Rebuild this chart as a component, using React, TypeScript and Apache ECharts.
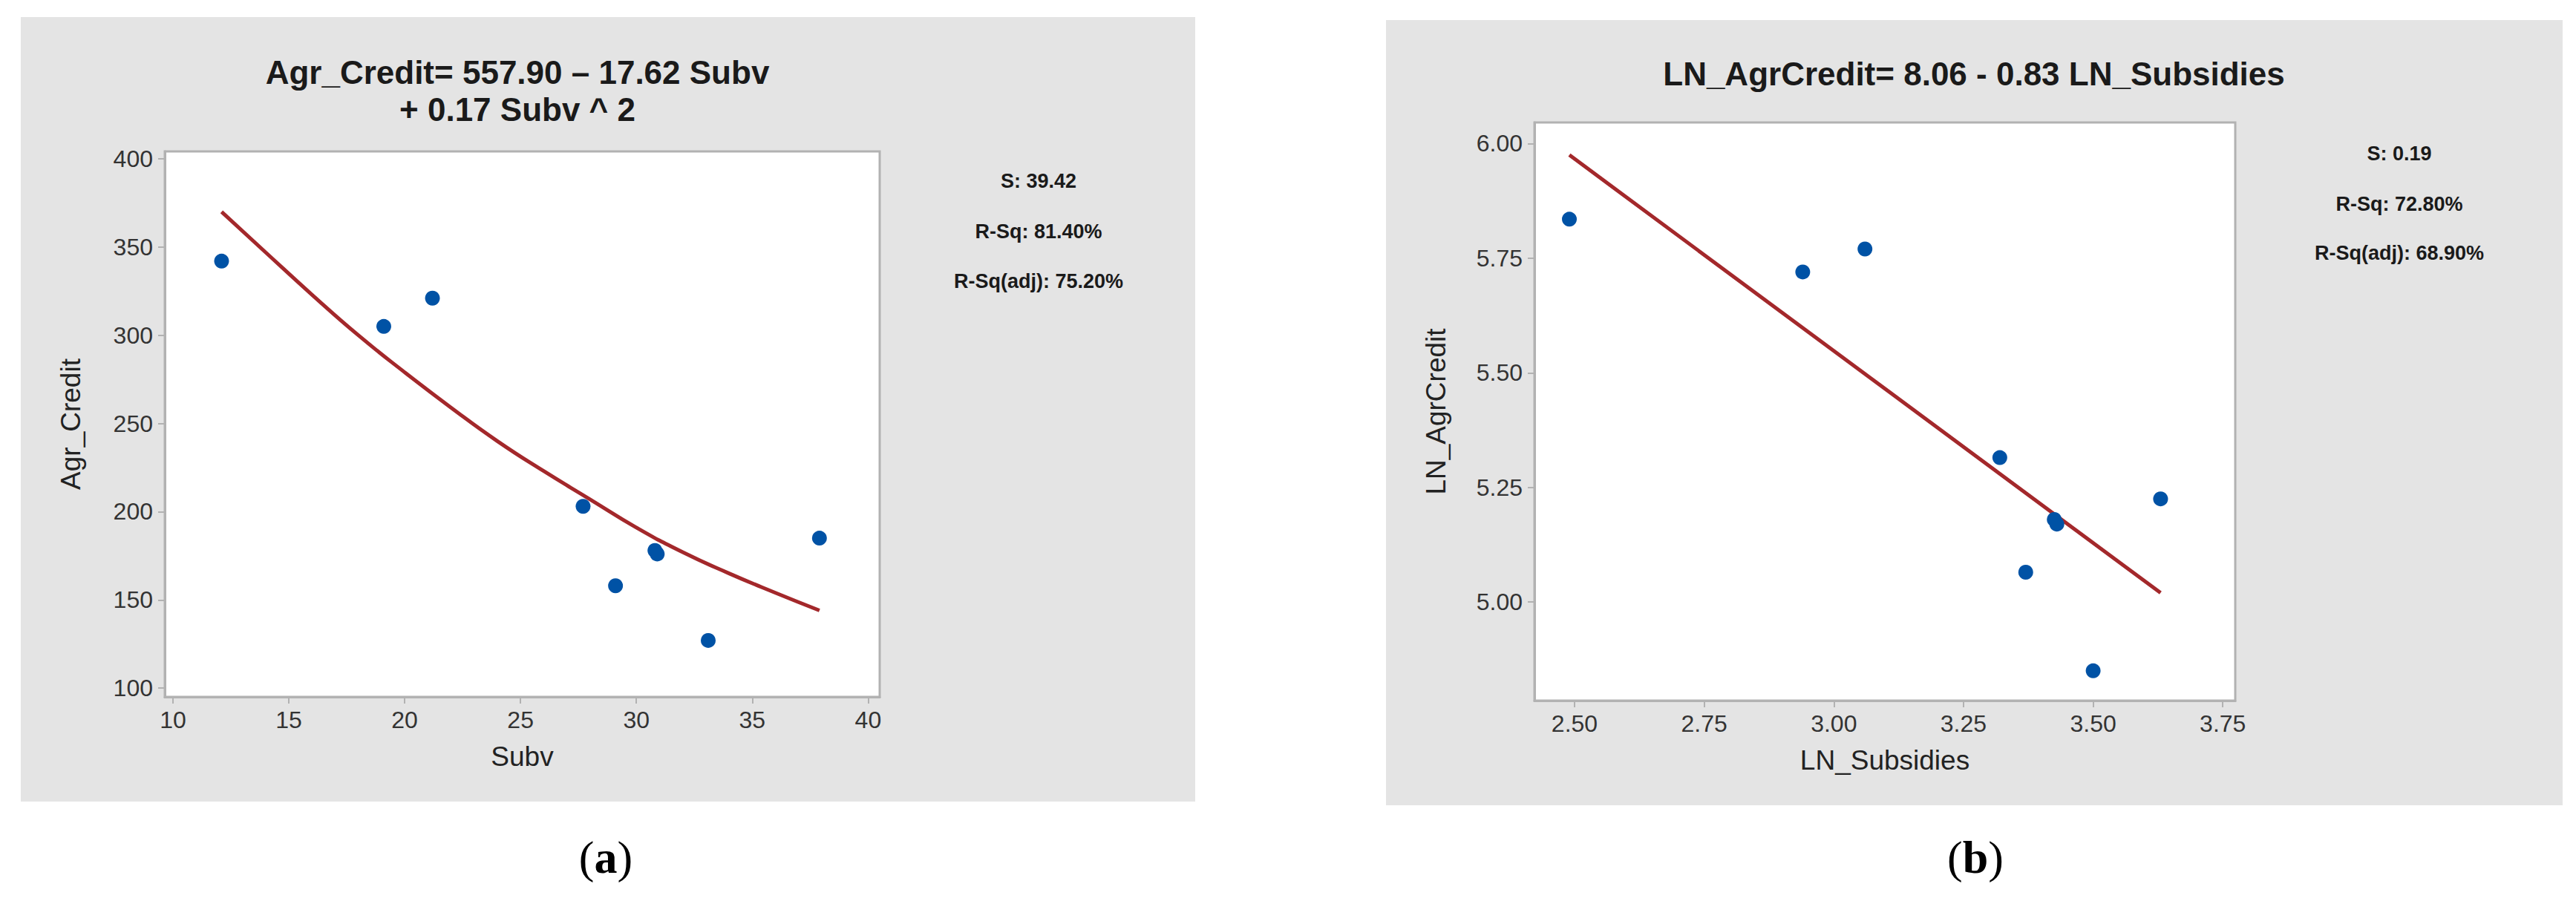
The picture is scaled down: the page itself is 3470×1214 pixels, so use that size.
import React, { useEffect, useRef } from "react";
import * as echarts from "echarts";

// Panel (a): Agr_Credit vs Subv
const subvA = [12.1, 19.1, 21.2, 27.7, 29.1, 30.8, 30.9, 33.1, 37.9];
const agrCreditA = [342, 305, 321, 203, 158, 178, 176, 127, 185];
const fitXA = [12.1, 14, 16, 18, 20, 22, 24, 26, 28, 30, 32, 34, 36, 37.9];
const fitYA = [370, 347, 323, 300, 279, 259, 240, 223, 207, 191, 177, 165, 154, 144];
const xTicksA = [10, 15, 20, 25, 30, 35, 40];
const yTicksA = [100, 150, 200, 250, 300, 350, 400];
const statsA = ["S: 39.42", "R-Sq: 81.40%", "R-Sq(adj): 75.20%"];

// Panel (b): LN_AgrCredit vs LN_Subsidies
const lnSubsidies = [2.49, 2.94, 3.06, 3.32, 3.37, 3.425, 3.43, 3.5, 3.63];
const lnAgrCredit = [5.835, 5.72, 5.77, 5.315, 5.065, 5.18, 5.17, 4.85, 5.225];
const fitXB = [2.49, 3.63];
const fitYB = [5.975, 5.02];
const xTicksB = [2.5, 2.75, 3.0, 3.25, 3.5, 3.75];
const yTicksB = [5.0, 5.25, 5.5, 5.75, 6.0];
const statsB = ["S: 0.19", "R-Sq: 72.80%", "R-Sq(adj): 68.90%"];

const FONT = '"Liberation Sans", Arial, sans-serif';
const AXIS_GRAY = "#b2b2b2";
const PANEL_GRAY = "#e4e4e4";
const DOT = "#0052a5";
const LINE = "#a3282b";

function txt(text: string, x: number, y: number, font: string, extra: any = {}) {
  return {
    type: "text",
    x,
    y,
    z: 20,
    silent: true,
    style: {
      text,
      font,
      fill: "#1a1a1a",
      align: "center",
      verticalAlign: "middle",
      textAlign: "center",
      textVerticalAlign: "middle",
      ...extra,
    },
  };
}

function axisPair(gi: number, xr: number[], yr: number[], xt: number[], yt: number[], xName: string, yName: string, dec: number, yGap: number) {
  const common = {
    gridIndex: gi,
    type: "value",
    splitLine: { show: false },
    axisLine: { show: true, onZero: false, lineStyle: { color: AXIS_GRAY, width: 3 } },
    nameTextStyle: { fontSize: 37, color: "#222", fontFamily: FONT },
    nameLocation: "middle",
  };
  const fmt = (v: number) => (dec > 0 ? Number(v).toFixed(dec) : String(v));
  return {
    x: {
      ...common,
      min: xr[0],
      max: xr[1],
      name: xName,
      nameGap: 62,
      axisTick: { show: true, customValues: xt, length: 9, lineStyle: { color: AXIS_GRAY, width: 2 } },
      axisLabel: { customValues: xt, fontSize: 32, color: "#333", fontFamily: FONT, margin: 15, formatter: fmt },
    },
    y: {
      ...common,
      min: yr[0],
      max: yr[1],
      name: yName,
      nameGap: yGap,
      nameRotate: 90,
      axisTick: { show: true, customValues: yt, length: 9, lineStyle: { color: AXIS_GRAY, width: 2 } },
      axisLabel: { customValues: yt, fontSize: 32, color: "#333", fontFamily: FONT, margin: 16, formatter: fmt },
    },
  };
}

export default function App() {
  const ref = useRef<HTMLDivElement>(null);
  useEffect(() => {
    if (!ref.current) return;
    const chart = echarts.init(ref.current, null, { renderer: "svg" });
    const a = axisPair(0, [9.65, 40.5], [95, 404.2], xTicksA, yTicksA, "Subv", "Agr_Credit", 0, 108);
    const b = axisPair(1, [2.4227, 3.774], [4.785, 6.046], xTicksB, yTicksB, "LN_Subsidies", "LN_AgrCredit", 2, 114);
    const labelRich = {
      p: { font: '62px "Liberation Serif", serif', fill: "#000" },
      b: { font: 'bold 62px "Liberation Serif", serif', fill: "#000" },
    };
    const option: any = {
      animation: false,
      backgroundColor: "#ffffff",
      graphic: [
        { type: "rect", z: -10, silent: true, shape: { x: 28, y: 23, width: 1582, height: 1057 }, style: { fill: PANEL_GRAY } },
        { type: "rect", z: -10, silent: true, shape: { x: 1867, y: 27, width: 1585, height: 1058 }, style: { fill: PANEL_GRAY } },
        txt("Agr_Credit= 557.90 \u2013 17.62 Subv", 697, 97, `bold 44px ${FONT}`),
        txt("+ 0.17 Subv ^ 2", 697, 147, `bold 44px ${FONT}`),
        txt("LN_AgrCredit= 8.06 - 0.83 LN_Subsidies", 2659, 99, `bold 44px ${FONT}`),
        txt(statsA[0], 1399, 244, `bold 27px ${FONT}`),
        txt(statsA[1], 1399, 312, `bold 27px ${FONT}`),
        txt(statsA[2], 1399, 379, `bold 27px ${FONT}`),
        txt(statsB[0], 3232, 207, `bold 27px ${FONT}`),
        txt(statsB[1], 3232, 275, `bold 27px ${FONT}`),
        txt(statsB[2], 3232, 341, `bold 27px ${FONT}`),
        txt("{p|(}{b|a}{p|)}", 816, 1155, '62px "Liberation Serif", serif', { rich: labelRich, fill: "#000" }),
        txt("{p|(}{b|b}{p|)}", 2661, 1155, '62px "Liberation Serif", serif', { rich: labelRich, fill: "#000" }),
      ],
      grid: [
        { left: 222, top: 204, width: 963, height: 735, show: true, backgroundColor: "#fff", borderColor: AXIS_GRAY, borderWidth: 3 },
        { left: 2067, top: 165, width: 944, height: 779, show: true, backgroundColor: "#fff", borderColor: AXIS_GRAY, borderWidth: 3 },
      ],
      xAxis: [a.x, b.x],
      yAxis: [a.y, b.y],
      series: [
        {
          type: "line",
          xAxisIndex: 0,
          yAxisIndex: 0,
          data: fitXA.map((x, i) => [x, fitYA[i]]),
          smooth: true,
          showSymbol: false,
          lineStyle: { color: LINE, width: 5 },
          z: 2,
        },
        {
          type: "scatter",
          xAxisIndex: 0,
          yAxisIndex: 0,
          data: subvA.map((x, i) => [x, agrCreditA[i]]),
          symbol: "circle",
          symbolSize: 20,
          itemStyle: { color: DOT, opacity: 1 },
          z: 3,
        },
        {
          type: "line",
          xAxisIndex: 1,
          yAxisIndex: 1,
          data: fitXB.map((x, i) => [x, fitYB[i]]),
          showSymbol: false,
          lineStyle: { color: LINE, width: 5 },
          z: 2,
        },
        {
          type: "scatter",
          xAxisIndex: 1,
          yAxisIndex: 1,
          data: lnSubsidies.map((x, i) => [x, lnAgrCredit[i]]),
          symbol: "circle",
          symbolSize: 20,
          itemStyle: { color: DOT, opacity: 1 },
          z: 3,
        },
      ],
    };
    chart.setOption(option);
    return () => chart.dispose();
  }, []);
  return <div ref={ref} style={{ position: "absolute", left: 0, top: 0, width: 3470, height: 1214 }} />;
}
